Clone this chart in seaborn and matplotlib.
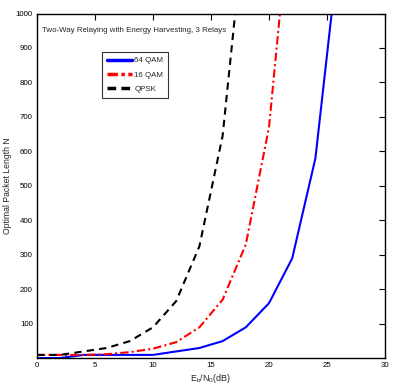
import matplotlib
matplotlib.use("Agg")
import matplotlib.pyplot as plt
from matplotlib.lines import Line2D
import seaborn as sns
import pandas as pd

ebn0 = [0, 2, 4, 6, 8, 10, 12, 14, 16, 18, 20, 22, 24, 26]
qam64 = [1, 1, 10, 10, 10, 10, 20, 30, 50, 90, 160, 290, 580, 1180]
qam16 = [10, 10, 10, 12, 18, 28, 47, 90, 170, 330, 670, 1370, None, None]
qpsk = [10, 10, 20, 30, 50, 90, 166, 325, 645, 1300, None, None, None, None]
series_names = ["64 QAM", "16 QAM", "QPSK"]
title_text = "Two-Way Relaying with Energy Harvesting, 3 Relays"
xticks = [0, 5, 10, 15, 20, 25, 30]
yticks = [100, 200, 300, 400, 500, 600, 700, 800, 900, 1000]

rows = []
for name, vals in zip(series_names, [qam64, qam16, qpsk]):
    for x, v in zip(ebn0, vals):
        if v is not None:
            rows.append({"x": x, "N": v, "scheme": name})
df = pd.DataFrame(rows)

sns.set_style("white")
plt.rcParams['font.family'] = ['Liberation Sans', 'DejaVu Sans']

fig = plt.figure(figsize=(3.97, 3.91), dpi=100)
ax = fig.add_axes([37/397, 1-358/391, (385-37)/397, (358-13.5)/391])

palette = {"64 QAM": "#0000ff", "16 QAM": "#ff0000", "QPSK": "#000000"}
dashes = {"64 QAM": "", "16 QAM": (4, 1.5, 1, 1.5), "QPSK": (3.5, 2.5)}
sns.lineplot(data=df, x="x", y="N", hue="scheme", style="scheme",
             palette=palette, dashes=dashes, hue_order=series_names,
             style_order=series_names, linewidth=1.5, ax=ax, legend=False)

ax.set_xlim(0, 30)
ax.set_ylim(1, 1000)
ax.set_xticks(xticks)
ax.set_yticks(yticks)
ax.tick_params(direction="in", length=4, width=0.8, labelsize=5.7,
               top=True, right=True, pad=3, colors="black")
for s in ax.spines.values():
    s.set_linewidth(1.0)
    s.set_color("black")

ax.set_xlabel(r"E$_\mathregular{b}$/N$_\mathregular{0}$(dB)", fontsize=6.5, labelpad=2)
ax.set_ylabel("Optimal Packet Length N", fontsize=6.2, labelpad=3)
ax.text(0.015, 0.95, title_text, transform=ax.transAxes, fontsize=5.7,
        ha="left", va="center")

handles = [Line2D([], [], color="#0000ff", linewidth=2.5, linestyle="-"),
           Line2D([], [], color="#ff0000", linewidth=2.5, dashes=(3, 1, 1, 1)),
           Line2D([], [], color="#000000", linewidth=2.5, dashes=(2.5, 1.5))]
leg = ax.legend(handles, series_names, loc="upper left",
                bbox_to_anchor=((102-37)/348, 1-(52-13.5)/344.5),
                fontsize=5.7, frameon=True, fancybox=False, handlelength=3.2,
                handletextpad=0.3, borderpad=0.6, labelspacing=0.85,
                borderaxespad=0)
leg.get_frame().set_edgecolor("black")
leg.get_frame().set_linewidth(0.8)

fig.savefig("out.png", dpi=100)
